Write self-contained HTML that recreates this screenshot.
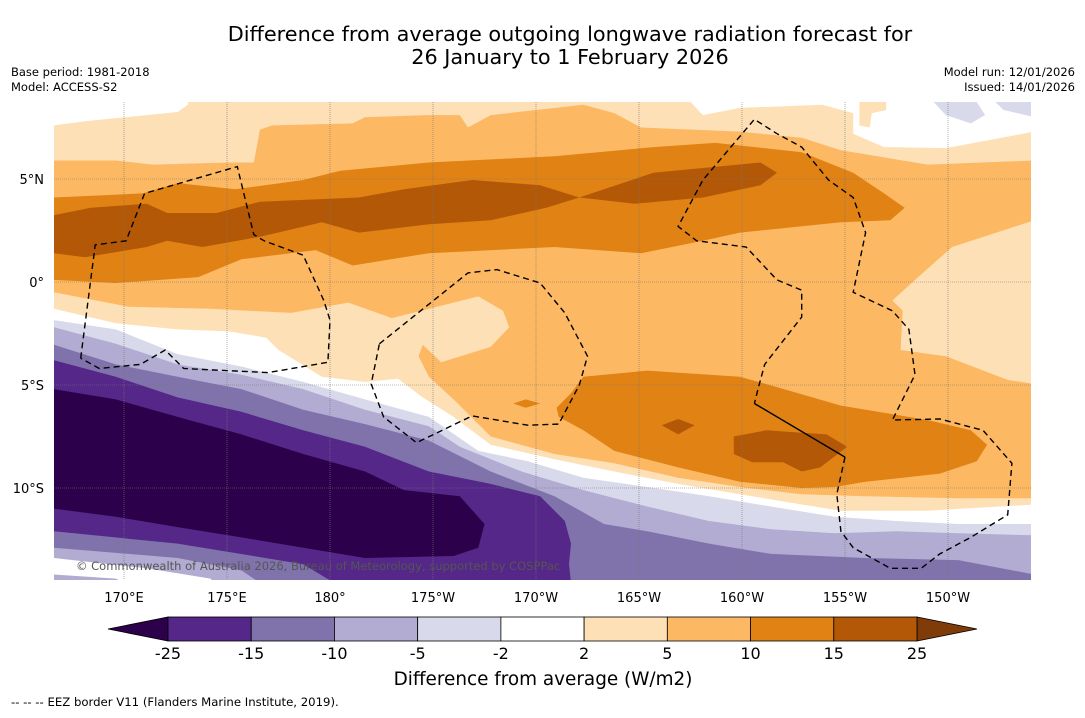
<!DOCTYPE html>
<html><head><meta charset="utf-8">
<style>
body{margin:0;background:#fff;width:1085px;height:713px;overflow:hidden;font-family:"Liberation Sans","DejaVu Sans",sans-serif;}
svg text{font-family:"DejaVu Sans","Liberation Sans",sans-serif;}
</style></head><body>
<svg id="chart" width="1085" height="713" viewBox="0 0 1085 713" xmlns="http://www.w3.org/2000/svg">
<text x="570" y="41" font-size="20.8" text-anchor="middle" fill="#000">Difference from average outgoing longwave radiation forecast for</text>
<text x="570" y="64" font-size="20.8" text-anchor="middle" fill="#000">26 January to 1 February 2026</text>
<text x="11" y="76" font-size="11.5">Base period: 1981-2018</text>
<text x="11" y="91" font-size="11.5">Model: ACCESS-S2</text>
<text x="1075" y="76" font-size="11.5" text-anchor="end">Model run: 12/01/2026</text>
<text x="1075" y="91" font-size="11.5" text-anchor="end">Issued: 14/01/2026</text>
<defs><clipPath id="clip"><rect x="54" y="102" width="977" height="478"/></clipPath></defs>
<g id="map" clip-path="url(#clip)"></g>
<g id="axes"></g>
<g id="cbar"></g>
<text x="543" y="685" font-size="18.4" text-anchor="middle">Difference from average (W/m2)</text>
<text x="11" y="706" font-size="11.7">--  --  -- EEZ border V11 (Flanders Marine Institute, 2019).</text>
</svg>
<script>
const lonTicks=[170,175,180,185,190,195,200,205,210];
const lonTickLabels=["170°E","175°E","180°","175°W","170°W","165°W","160°W","155°W","150°W"];
const latTicks=[5,0,-5,-10];
const latTickLabels=["5°N","0°","5°S","10°S"];
const cbarLevels=[-25,-15,-10,-5,-2,2,5,10,15,25];
const cbarColors=["#542788","#8073ac","#b2abd2","#d8daeb","#ffffff","#fee0b6","#fdb863","#e08214","#b35806"];
const cbarMinColor="#2d004b", cbarMaxColor="#7f3b08";

const bgBand="#fdb863";
const topLight=[[166.6,8.74],[166.6,5.9],[169.6,5.9],[171.4,5.7],[175.1,5.8],[176.3,5.8],[176.6,7.4],[177.2,7.6],[181.1,7.7],[181.7,8],[184.8,8.1],[186.3,8.1],[186.7,7.5],[187.8,8.1],[192.3,8.6],[193.8,8.2],[195.1,7.5],[199.9,7.3],[202.9,7],[204.8,6.4],[209,5.7],[214.2,5.9],[214.2,8.74]];
const topWhiteLeft=[[166.6,8.74],[173.1,8.74],[173.1,8.6],[172.6,8.25],[168.1,7.8],[166.6,7.6]];
const topWhiteRight=[[197.5,8.74],[198.1,8.1],[199.9,8.45],[203.9,8.6],[205.4,8.2],[205.4,7.2],[206.9,6.55],[209.9,6.5],[214.2,7.3],[214.2,8.74]];
const topPatch=[[205.7,8.74],[207,8.74],[207,8.35],[206.3,8.2],[206.2,7.5],[205.7,7.6]];
const lav1=[[209.3,8.74],[211.4,8.74],[211.8,8.1],[211.1,7.7],[209.9,8.1]];
const lav2=[[212.3,8.74],[214.2,8.74],[214.2,8],[212.7,8.35]];
const north10=[[166.6,4.1],[170.9,4.3],[172.6,4.8],[175.4,4.5],[178.7,4.95],[180.5,5.4],[184.8,5.8],[190.9,6.1],[195.7,6.55],[198.7,6.75],[202.9,6.3],[205.4,5.3],[206.9,4.3],[207.9,3.6],[207.2,3],[204.8,2.9],[199.9,2.4],[198.1,2],[195.1,1.4],[190.9,1.7],[184.8,1.4],[181.1,0.8],[179.3,1.55],[175.7,1.1],[173.6,0.24],[169.6,-0.05],[166.6,0.1]];
const north15=[[166.6,3.25],[168.4,3.6],[171.1,3.8],[172.1,3.35],[174.5,3.35],[176.6,3.9],[181.4,4.1],[183.6,4.5],[186.9,4.95],[190.2,4.7],[192.1,4.1],[195.7,5.3],[200.9,5.8],[201.7,5.3],[200.9,4.7],[198.1,4.1],[194.8,3.8],[192.1,4.1],[190.5,3.6],[187.8,3],[184.8,2.8],[181.4,2.4],[179.6,2.9],[176.6,2.2],[173.8,1.7],[172.1,2],[171.1,1.7],[168.1,1.2],[166.6,1.4]];
const eastLight=[[214.2,3],[210.2,1.7],[208.4,0.1],[207.3,-0.9],[207.8,-1.4],[207.7,-3.3],[209.9,-3.6],[212.9,-4.75],[214.2,-4.95]];
const southLight=[[166.6,-0.5],[170.2,-1.2],[174.2,-1.3],[178.1,-1.5],[180.9,-1],[183,-1.75],[186,-1],[187.2,-0.7],[188.4,-1.4],[188.7,-2.2],[187.8,-3.15],[185.4,-3.9],[184.5,-3.05],[184.3,-3.6],[184.8,-4.6],[186,-5.7],[187.8,-7.5],[190.9,-8.35],[193.8,-8.8],[196.9,-9.5],[199.9,-9.95],[202.9,-10.3],[206,-10.4],[210.5,-10.5],[214.2,-10.5],[214.2,-14.6],[166.6,-14.6]];
const southWhite=[[166.6,-1.3],[169.6,-2],[172.6,-2.3],[175.1,-2.4],[176.9,-2.7],[177.5,-3.3],[179.6,-4.6],[181.7,-4.85],[183.3,-4.7],[184.5,-5.6],[186,-6.55],[187.8,-7.9],[190.9,-8.6],[193.8,-9.2],[196.9,-9.8],[199.9,-10.3],[202.9,-10.8],[204.8,-11.1],[209,-11.1],[214.2,-10.8],[214.2,-14.6],[166.6,-14.6]];
const southM5=[[166.6,-1.85],[169.6,-2.3],[172.6,-3.5],[175.7,-4.1],[178.7,-4.85],[181.7,-5.7],[184.8,-6.55],[187.2,-8.2],[189.6,-8.7],[192.3,-9.5],[195.4,-9.95],[198.4,-10.4],[201.4,-10.9],[204.5,-11.4],[207.5,-11.6],[210.5,-11.75],[214.2,-11.75],[214.2,-14.6],[166.6,-14.6]];
const southM10=[[166.6,-2.2],[169.6,-3],[172.6,-4],[175.7,-4.5],[178.7,-5.2],[181.7,-6.2],[184.8,-7],[186.3,-8],[189.3,-9.2],[192.3,-10.1],[195.4,-10.9],[198.4,-11.6],[201.4,-12],[204.5,-12.2],[207.5,-12.1],[210.5,-12.2],[214.2,-12.3],[214.2,-14.6],[166.6,-14.6]];
const southM15=[[166.6,-3.05],[169.6,-4],[172.6,-4.6],[175.7,-5.2],[178.7,-6.2],[181.7,-6.9],[184.8,-7.7],[187.8,-9.2],[190.9,-10.4],[193.3,-11.75],[195.4,-12.1],[198.4,-12.7],[201.4,-13.2],[206,-13.4],[210.5,-13.5],[214.2,-14.2],[214.2,-14.6],[166.6,-14.6]];
const southM25=[[166.6,-3.8],[169.6,-4.6],[172.6,-5.6],[175.7,-6.3],[178.7,-7.2],[181.7,-8],[184.8,-9.2],[187.8,-9.8],[190.2,-10.4],[191.4,-11.6],[191.7,-12.7],[191.6,-13.7],[191.7,-14.6],[180.2,-14.6],[178.7,-13.7],[172.6,-12.7],[166.6,-12.1]];
const swM10=[[166.6,-12.9],[172.6,-13.4],[175.7,-14],[176.6,-14.6],[166.6,-14.6]];
const swWhite=[[166.6,-13.4],[171.1,-13.9],[174.2,-14.4],[174.4,-14.6],[166.6,-14.6]];
const swM10b=[[166.6,-14.2],[169.6,-14.4],[170,-14.6],[166.6,-14.6]];
const southMin=[[166.6,-5.2],[169.6,-5.7],[172.6,-6.55],[175.7,-7.4],[178.7,-8.35],[181.7,-9.2],[183.6,-10.1],[186.3,-10.4],[187.5,-11.75],[187.2,-12.9],[186,-13.3],[181.7,-13.4],[175.7,-12.4],[172.6,-11.9],[169.6,-11.4],[166.6,-11]];
const se10=[[192.3,-4.6],[195.4,-4.3],[199.9,-4.6],[201.7,-5.1],[204.8,-6],[209,-6.7],[211.1,-7.2],[211.9,-7.9],[211.4,-8.7],[209.6,-9.3],[206,-9.7],[204.5,-9.95],[202.9,-10],[199.9,-9.7],[196.9,-9],[193.8,-8.2],[192.3,-7.2],[191.1,-6.55],[191,-6.1],[191.7,-5.4]];
const se15=[[199.6,-7.5],[201.2,-7.2],[202.6,-7.3],[204.1,-7.4],[205.1,-8],[203.8,-9],[202.9,-9.2],[202,-8.75],[200.5,-8.75],[199.6,-8.35]];
const se15b=[[196.1,-6.95],[196.9,-6.65],[197.7,-6.95],[196.9,-7.4]];
const se10b=[[188.9,-5.9],[189.5,-5.7],[190.2,-5.9],[189.5,-6.1]];

const eezA=[[167.9,-3.7],[168.6,1.8],[170.1,2],[171,4.3],[175.5,5.6],[176.3,2.3],[176.8,2],[178.7,1.3],[179.7,-0.9],[180,-1.85],[179.9,-3.9],[177,-4.4],[172.9,-4.2],[172,-3.3],[170.8,-4],[168.8,-4.2],[167.9,-3.7]];
const eezB=[[182.4,-3],[186.7,0.44],[188.1,0.6],[190.2,-0.05],[191.4,-1.5],[192.5,-3.6],[192.1,-5],[191.1,-6.9],[189.6,-6.95],[186.9,-6.5],[184.2,-7.8],[182.6,-6.55],[182,-4.95],[182.4,-3]];
const eezC1=[[205,-8.5],[204.6,-10.3],[204.8,-12.1],[205.4,-12.9],[207.2,-13.9],[208.7,-13.9],[209.6,-13.2],[211.1,-12.4],[212.9,-11.3],[213.1,-8.8],[211.7,-7.2],[209.6,-6.65],[207.3,-6.7],[208.4,-4.5],[208.1,-2.3],[207.3,-1.4],[205.4,-0.5],[206,2.4],[205.4,4.1],[204.2,4.95],[202.9,6.55],[201.7,7.2],[200.6,7.9],[198.1,4.95],[196.9,2.7],[197.8,2],[200.2,1.7],[201.7,0.1],[202.9,-0.4],[202.9,-1.7],[201.1,-4],[200.8,-5.1],[200.6,-5.9]];
const eezCsolid=[[200.6,-5.9],[205,-8.5]];

const NS="http://www.w3.org/2000/svg";
const xS=lon=>124+(lon-170)*20.6;
const yS=lat=>282-lat*20.6;
const pts=a=>a.map(p=>xS(p[0]).toFixed(1)+","+yS(p[1]).toFixed(1)).join(" ");
const map=document.getElementById("map");
function poly(arr,fill,name){
  const e=document.createElementNS(NS,"polygon");
  e.setAttribute("points",pts(arr));e.setAttribute("fill",fill);
  
  
  map.appendChild(e);}
const bg=document.createElementNS(NS,"rect");
bg.setAttribute("x",54);bg.setAttribute("y",102);bg.setAttribute("width",977);bg.setAttribute("height",478);bg.setAttribute("fill",bgBand);


map.appendChild(bg);
poly(topLight,"#fee0b6","band-2-to-5-north");
poly(topWhiteLeft,"#ffffff","band-neutral-northwest");
poly(topWhiteRight,"#ffffff","band-neutral-northeast");
poly(topPatch,"#fee0b6","band-2-to-5-patch");
poly(lav1,"#d8daeb","band-minus5-patch-1");
poly(lav2,"#d8daeb","band-minus5-patch-2");
poly(north10,"#e08214","band-10-to-15-north");
poly(north15,"#b35806","band-15-to-25-north");
poly(eastLight,"#fee0b6","band-2-to-5-east");
poly(southLight,"#fee0b6","band-2-to-5-south");
poly(southWhite,"#ffffff","band-neutral-south");
poly(southM5,"#d8daeb","band-minus5");
poly(southM10,"#b2abd2","band-minus10");
poly(southM15,"#8073ac","band-minus15");
poly(southM25,"#542788","band-minus25");
poly(swM10,"#b2abd2","band-minus10-southwest");
poly(swWhite,"#ffffff","band-neutral-southwest");
poly(swM10b,"#b2abd2","band-minus10-corner");
poly(southMin,"#2d004b","band-below-minus25");
poly(se10,"#e08214","band-10-to-15-southeast");
poly(se15,"#b35806","band-15-to-25-southeast");
poly(se15b,"#b35806","band-15-to-25-spot");
poly(se10b,"#e08214","band-10-to-15-spot");

const axes=document.getElementById("axes");
lonTicks.forEach((lon,i)=>{
  const l=document.createElementNS(NS,"line");
  l.setAttribute("x1",xS(lon));l.setAttribute("x2",xS(lon));l.setAttribute("y1",102);l.setAttribute("y2",580);
  l.setAttribute("stroke","#777");l.setAttribute("stroke-width","0.6");l.setAttribute("stroke-dasharray","1,1");
  
  
  axes.appendChild(l);
  const t=document.createElementNS(NS,"text");
  t.setAttribute("x",xS(lon));t.setAttribute("y",602);t.setAttribute("font-size","13");t.setAttribute("text-anchor","middle");
  t.textContent=lonTickLabels[i];
  
  
  axes.appendChild(t);
});
latTicks.forEach((lat,i)=>{
  const l=document.createElementNS(NS,"line");
  l.setAttribute("x1",54);l.setAttribute("x2",1031);l.setAttribute("y1",yS(lat));l.setAttribute("y2",yS(lat));
  l.setAttribute("stroke","#777");l.setAttribute("stroke-width","0.6");l.setAttribute("stroke-dasharray","1,1");
  
  
  axes.appendChild(l);
  const t=document.createElementNS(NS,"text");
  t.setAttribute("x",44);t.setAttribute("y",yS(lat)+5);t.setAttribute("font-size","13");t.setAttribute("text-anchor","end");
  t.textContent=latTickLabels[i];
  
  
  axes.appendChild(t);
});
function dline(arr,dash,name){
  const e=document.createElementNS(NS,"polyline");
  e.setAttribute("points",pts(arr));e.setAttribute("fill","none");e.setAttribute("stroke","#000");e.setAttribute("stroke-width","1.4");
  if(dash)e.setAttribute("stroke-dasharray","6,4");
  
  
  axes.appendChild(e);}
dline(eezA,true,"eez-border-tuvalu");
dline(eezB,true,"eez-border-phoenix");
dline(eezC1,true,"eez-border-line-islands");
dline(eezCsolid,false,"eez-border-solid-segment");
const cp=document.createElementNS(NS,"text");
cp.setAttribute("x",76);cp.setAttribute("y",570);cp.setAttribute("font-size","11.5");cp.setAttribute("fill","#555");
cp.textContent="© Commonwealth of Australia 2026, Bureau of Meteorology, supported by COSPPac";


axes.appendChild(cp);

const cb=document.getElementById("cbar");
const cx0=168,cx1=917,cy=617,ch=24;
const segW=(cx1-cx0)/cbarColors.length;
const triL=document.createElementNS(NS,"polygon");
triL.setAttribute("points",`${cx0},${cy} ${cx0},${cy+ch} 108,${cy+ch/2}`);triL.setAttribute("fill",cbarMinColor);triL.setAttribute("stroke","#000");triL.setAttribute("stroke-width","0.8");


cb.appendChild(triL);
const triR=document.createElementNS(NS,"polygon");
triR.setAttribute("points",`${cx1},${cy} ${cx1},${cy+ch} 977,${cy+ch/2}`);triR.setAttribute("fill",cbarMaxColor);triR.setAttribute("stroke","#000");triR.setAttribute("stroke-width","0.8");


cb.appendChild(triR);
cbarColors.forEach((c,i)=>{
  const r=document.createElementNS(NS,"rect");
  r.setAttribute("x",cx0+i*segW);r.setAttribute("y",cy);r.setAttribute("width",segW);r.setAttribute("height",ch);
  r.setAttribute("fill",c);r.setAttribute("stroke","#000");r.setAttribute("stroke-width","0.8");
  
  
  cb.appendChild(r);
});
cbarLevels.forEach((v,i)=>{
  const t=document.createElementNS(NS,"text");
  t.setAttribute("x",cx0+i*segW);t.setAttribute("y",659);t.setAttribute("font-size","16");t.setAttribute("text-anchor","middle");
  t.textContent=String(v);
  
  
  cb.appendChild(t);
});
</script>
</body></html>
